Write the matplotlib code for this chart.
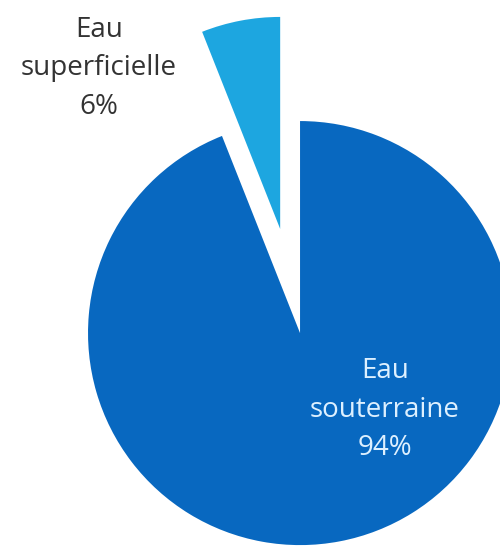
import matplotlib
matplotlib.use("Agg")
import matplotlib.pyplot as plt

# Water supply by source type
labels = ["Eau\nsuperficielle", "Eau\nsouterraine"]
shares = [6, 94]

SURFACE = "#1DA6E0"
GROUND = "#0868C0"

fig = plt.figure(figsize=(5.0, 5.47), dpi=100)
ax = fig.add_axes([0, 0, 1, 1])

ax.pie(shares, startangle=90, counterclock=True, radius=1.0,
       explode=[0.5, 0], colors=[SURFACE, GROUND],
       wedgeprops=dict(linewidth=0))

ax.set_aspect("equal")
ax.set_xlim(-1.415, 0.943)
ax.set_ylim(-1.009, 1.571)
ax.axis("off")

font = dict(family="Open Sans", fontsize=20, ha="center", va="center",
            linespacing=1.5)
ax.text(-0.948, 1.25, f"{labels[0]}\n{shares[0]}%", color="#333333", **font)
ax.text(0.401, -0.362, f"{labels[1]}\n{shares[1]}%", color="#DDF0FF", **font)

fig.savefig("out.png", dpi=100)
